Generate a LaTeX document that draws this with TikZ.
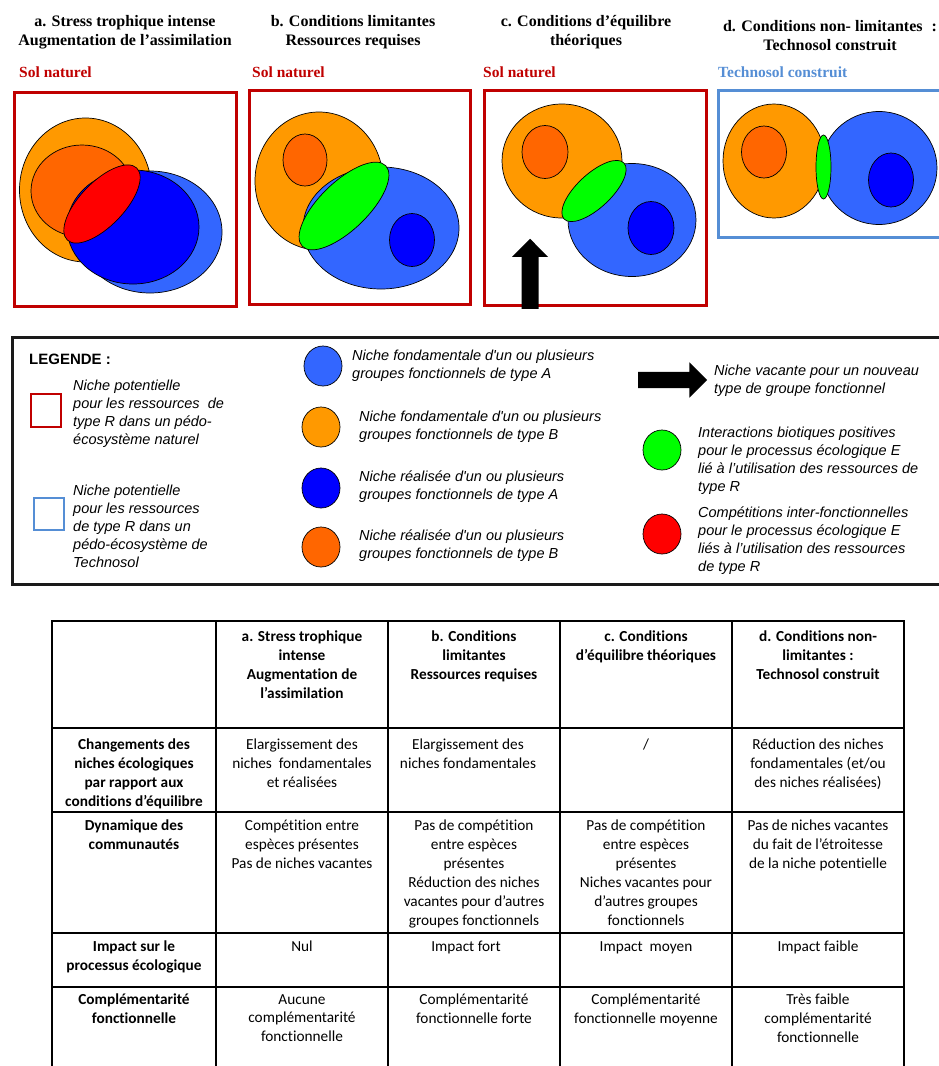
\documentclass[tikz,border=0pt]{standalone}
\usepackage{fontspec}
\setmainfont{Liberation Serif}
\newfontfamily\arialf{Liberation Sans}
\newfontfamily\calib{Carlito}[Ligatures=CommonOff]
\usetikzlibrary{shapes.geometric,shapes.arrows}
\definecolor{boxred}{HTML}{C00000}
\definecolor{boxblue}{HTML}{558ED5}
\definecolor{fundA}{HTML}{3366FF}
\definecolor{fundB}{HTML}{FF9900}
\definecolor{realA}{HTML}{0000FF}
\definecolor{realB}{HTML}{FF6600}
\definecolor{posint}{HTML}{00FF00}
\definecolor{compet}{HTML}{FF0000}
\definecolor{legframe}{HTML}{1A1A1A}
\tikzset{
  nic/.style={ellipse, draw=black, line width=0.7pt, inner sep=0pt},
  ttl/.style={font=\bfseries\fontsize{16}{19.5}\selectfont, align=center, inner sep=0pt, anchor=north},
  soltxt/.style={font=\bfseries\fontsize{15.5}{18}\selectfont, anchor=north west, inner sep=0pt, text=boxred},
  panel/.style={draw=boxred, line width=3pt, inner sep=0pt, anchor=north west},
  legtxt/.style={font=\arialf\itshape\fontsize{14.5}{17.9}\selectfont, align=left, anchor=north west, inner sep=0pt},
  cell/.style={font=\calib\fontsize{15.3}{18.9}\selectfont, align=center, anchor=north, inner sep=0pt},
  hcell/.style={font=\calib\bfseries\fontsize{15.3}{18.9}\selectfont, align=center, anchor=north, inner sep=0pt},
  bigarrow/.style={single arrow, fill=black, draw=none, single arrow head extend=9.5pt, inner sep=8.3pt},
  tline/.style={line width=1.3pt, black}
}
\begin{document}
\begin{tikzpicture}[x=1pt,y=-1pt]
\useasboundingbox (0,0) rectangle (938,1066);
\fill[white] (0,0) rectangle (938,1066);

% ---------- titles ----------
\node[ttl] (ta) at (125,15) {a. Stress trophique intense\\Augmentation de l’assimilation};
\node[ttl] (tb) at (353,15) {b. Conditions limitantes\\Ressources requises};
\node[ttl] (tc) at (586,15) {c. Conditions d’équilibre\\théoriques};
\node[ttl] (td) at (830,20) {d. Conditions non- limitantes\hspace{9pt}:\\Technosol construit};

\node[soltxt] (sa) at (19,66.5) {Sol naturel};
\node[soltxt] (sb) at (252,66.5) {Sol naturel};
\node[soltxt] (sc) at (483,66.5) {Sol naturel};
\node[soltxt, text=boxblue] (sd) at (718,66.5) {Technosol construit};

% ---------- panel a ----------
\node[panel, minimum width=222, minimum height=214] (pa) at (13,91) {};
\node[nic, fill=fundB, minimum width=132, minimum height=144] (aOF) at (85.5,190) {};
\node[nic, fill=fundA, minimum width=144, minimum height=122] (aBF) at (150,232) {};
\node[nic, fill=realB, minimum width=102, minimum height=92] (aOR) at (82,191) {};
\node[nic, fill=realA, minimum width=132, minimum height=114] (aBR) at (133,227) {};
\node[nic, fill=compet, minimum width=100, minimum height=44, rotate=46] (aR) at (102,204) {};

% ---------- panel b ----------
\node[panel, minimum width=221, minimum height=214] (pb) at (248,89) {};
\node[nic, fill=fundB, minimum width=128, minimum height=138] (bOF) at (319,181) {};
\node[nic, fill=fundA, minimum width=156, minimum height=122] (bBF) at (381,228) {};
\node[nic, fill=realB, minimum width=44, minimum height=52] (bOR) at (305,160) {};
\node[nic, fill=realA, minimum width=45, minimum height=53] (bBR) at (412,240) {};
\node[nic, fill=posint, minimum width=116, minimum height=48, rotate=44] (bG) at (344,206) {};

% ---------- panel c ----------
\node[panel, minimum width=222, minimum height=215] (pc) at (483,89) {};
\node[nic, fill=fundB, minimum width=120, minimum height=114] (cOF) at (562,161) {};
\node[nic, fill=fundA, minimum width=128, minimum height=113] (cBF) at (632,220) {};
\node[nic, fill=realB, minimum width=46, minimum height=53] (cOR) at (545,152) {};
\node[nic, fill=realA, minimum width=46, minimum height=53] (cBR) at (651,228) {};
\node[nic, fill=posint, minimum width=82, minimum height=34, rotate=43] (cG) at (594,191) {};
\node[bigarrow, minimum height=70, shape border rotate=90] (upar) at (530,278) {};

% ---------- panel d ----------
\node[panel, draw=boxblue, minimum width=230, minimum height=147] (pd) at (717,89) {};
\node[nic, fill=fundB, minimum width=102, minimum height=114] (dOF) at (774,161) {};
\node[nic, fill=fundA, minimum width=116, minimum height=113] (dBF) at (879,168) {};
\node[nic, fill=realB, minimum width=45, minimum height=52] (dOR) at (764,152) {};
\node[nic, fill=realA, minimum width=45, minimum height=54] (dBR) at (891,180) {};
\node[nic, fill=posint, minimum width=15, minimum height=64] (dG) at (823.5,167) {};

% ---------- legend ----------
\node[draw=legframe, line width=3pt, anchor=north west, inner sep=0pt, minimum width=945, minimum height=247] (leg) at (11,336) {};
\node[font=\arialf\bfseries\fontsize{15}{18}\selectfont, anchor=north west, inner sep=0pt] (legt) at (29,354) {LEGENDE :};

\node[draw=boxred, line width=2.2pt, anchor=north west, inner sep=0pt, minimum width=30, minimum height=33] (lsqr) at (30,393) {};
\node[legtxt] (lsqrt) at (73,380) {Niche potentielle\\pour les ressources~ de\\type R dans un pédo-\\écosystème naturel};
\node[draw=boxblue, line width=2.2pt, anchor=north west, inner sep=0pt, minimum width=30, minimum height=32] (lsqb) at (33,497) {};
\node[legtxt] (lsqbt) at (73,485) {Niche potentielle\\pour les ressources\\de type R dans un\\pédo-écosystème de\\Technosol};

\node[nic, fill=fundA, minimum width=38, minimum height=40] (lcA) at (323,366) {};
\node[legtxt] (lcAt) at (352,350) {Niche fondamentale d'un ou plusieurs\\groupes fonctionnels de type A};
\node[nic, fill=fundB, minimum width=38, minimum height=40] (lcB) at (321,427) {};
\node[legtxt] (lcBt) at (359,411) {Niche fondamentale d'un ou plusieurs\\groupes fonctionnels de type B};
\node[nic, fill=realA, minimum width=38, minimum height=40] (lrA) at (321,488) {};
\node[legtxt] (lrAt) at (359,471) {Niche réalisée d'un ou plusieurs\\groupes fonctionnels de type A};
\node[nic, fill=realB, minimum width=38, minimum height=40] (lrB) at (321,547) {};
\node[legtxt] (lrBt) at (359,530) {Niche réalisée d'un ou plusieurs\\groupes fonctionnels de type B};

\node[bigarrow, minimum height=69, inner sep=8pt] (rar) at (668.5,380) {};
\node[legtxt] (rart) at (714,365) {Niche vacante pour un nouveau\\type de groupe fonctionnel};
\node[nic, fill=posint, minimum width=38, minimum height=40] (lg) at (662,450) {};
\node[legtxt] (lgt) at (698,427) {Interactions biotiques positives\\pour le processus écologique E\\lié à l’utilisation des ressources de\\type R};
\node[nic, fill=compet, minimum width=38, minimum height=40] (lr) at (662,534) {};
\node[legtxt] (lrt) at (698,507) {Compétitions inter-fonctionnelles\\pour le processus écologique E\\liés à l’utilisation des ressources\\de type R};

% ---------- table ----------
\foreach \xx in {52,216,388,560,732,904} \draw[tline] (\xx,621) -- (\xx,1075);
\foreach \yy in {621,728,812,933,987} \draw[tline] (51.35,\yy) -- (904.65,\yy);

\node[hcell] (h1) at (302,631) {a. Stress trophique\\intense\\Augmentation de\\l’assimilation};
\node[hcell] (h2) at (474,631) {b. Conditions\\limitantes\\Ressources requises};
\node[hcell] (h3) at (646,631) {c. Conditions\\d’équilibre théoriques};
\node[hcell] (h4) at (818,631) {d. Conditions non-\\limitantes :\\Technosol construit};

\node[hcell] (r1) at (134,739) {Changements des\\niches écologiques\\par rapport aux\\conditions d’équilibre};
\node[cell] (c11) at (302,739) {Elargissement des\\niches~ fondamentales\\et réalisées};
\node[cell] (c12) at (468,739) {Elargissement des\\niches fondamentales};
\node[cell] (c13) at (646,739) {/};
\node[cell] (c14) at (818,739) {Réduction des niches\\fondamentales (et/ou\\des niches réalisées)};

\node[hcell] (r2) at (134,820) {Dynamique des\\communautés};
\node[cell] (c21) at (302,820) {Compétition entre\\espèces présentes\\Pas de niches vacantes};
\node[cell] (c22) at (474,820) {Pas de compétition\\entre espèces\\présentes\\Réduction des niches\\vacantes pour d’autres\\groupes fonctionnels};
\node[cell] (c23) at (646,820) {Pas de compétition\\entre espèces\\présentes\\Niches vacantes pour\\d’autres groupes\\fonctionnels};
\node[cell] (c24) at (818,820) {Pas de niches vacantes\\du fait de l’étroitesse\\de la niche potentielle};

\node[hcell] (r3) at (134,941) {Impact sur le\\processus écologique};
\node[cell] (c31) at (302,941) {Nul};
\node[cell] (c32) at (466,941) {Impact fort};
\node[cell] (c33) at (646,941) {Impact~ moyen};
\node[cell] (c34) at (818,941) {Impact faible};

\node[hcell] (r4) at (134,994) {Complémentarité\\fonctionnelle};
\node[cell] (c41) at (302,994) {Aucune\\complémentarité\\fonctionnelle};
\node[cell] (c42) at (474,994) {Complémentarité\\fonctionnelle forte};
\node[cell] (c43) at (646,994) {Complémentarité\\fonctionnelle moyenne};
\node[cell] (c44) at (818,994) {Très faible\\complémentarité\\fonctionnelle};
\end{tikzpicture}
\end{document}
